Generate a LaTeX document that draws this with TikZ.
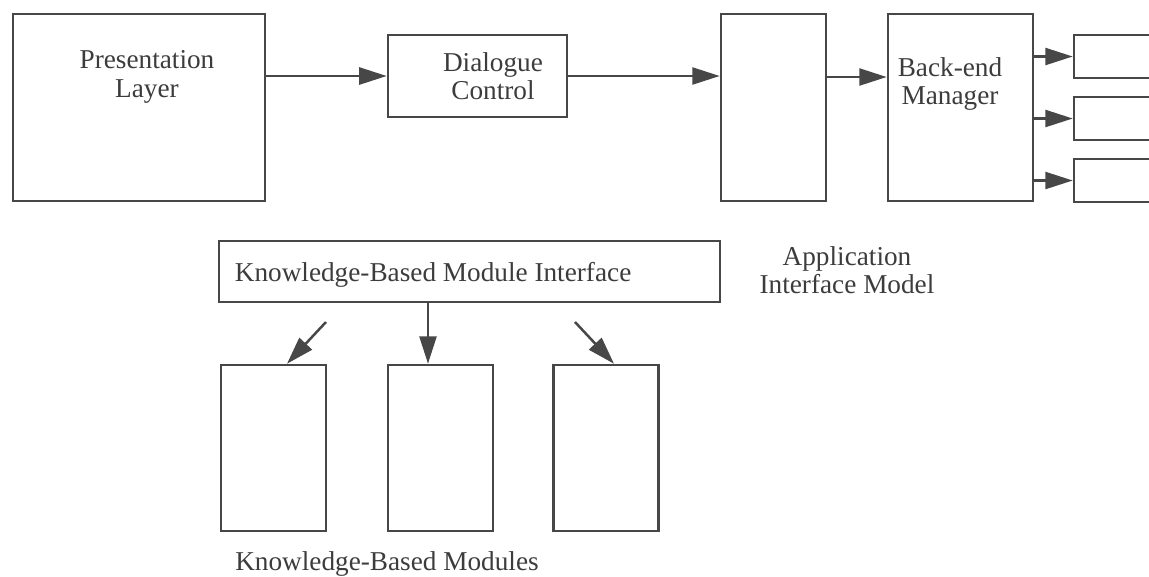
\documentclass[tikz,border=0pt]{standalone}
\usepackage{fontspec}
\setmainfont{Liberation Serif}
\usetikzlibrary{arrows.meta}
\definecolor{ink}{HTML}{474747}
\tikzset{
	box/.style={draw=ink,line width=1pt,rectangle,inner sep=0pt},
	lbl/.style={text=ink!85!black,align=center,font=\fontsize{10.9}{11.3}\selectfont},
	conn/.style={draw=ink,line width=1pt,-{Triangle[length=11pt,width=6.8pt]}}
}
\begin{document}
\begin{tikzpicture}[x=0.4pt,y=-0.4pt]
		\useasboundingbox (0,0) rectangle (1149,576);
		\clip (0,0) rectangle (1149,576);
		% top row
		\node[box,minimum width=100.8pt,minimum height=74.8pt] (pl) at (139,107.5) {};
		\node[box,minimum width=71.6pt,minimum height=32.8pt] (dc) at (477.5,76) {};
		\node[box,minimum width=42pt,minimum height=74.8pt] (aim) at (773.5,107.5) {};
		\node[box,minimum width=58pt,minimum height=74.8pt] (bem) at (960.5,107.5) {};
		\node[box,minimum width=50.4pt,minimum height=17.2pt] (b1) at (1137,56.5) {};
		\node[box,minimum width=50.4pt,minimum height=17.2pt] (b2) at (1137,118.5) {};
		\node[box,minimum width=50.4pt,minimum height=17.2pt] (b3) at (1137,180.5) {};
		\node[lbl] (pltext) at (147,77) {Presentation\\Layer};
		\node[lbl] (dctext) at (493,76) {Dialogue\\Control};
		\node[lbl] (bemtext) at (950,84) {Back-end\\Manager};
		\node[lbl] (aimtext) at (847,270) {Application\\Interface Model};
		\draw[conn] (pl.east |- dc.west) -- (dc.west);
		\draw[conn] (dc.east) -- (dc.east -| aim.west);
		\draw[conn] (aim.east |- 0,77) -- (bem.west |- 0,77);
		\draw[conn] (bem.east |- b1.west) -- (b1.west);
		\draw[conn] (bem.east |- b2.west) -- (b2.west);
		\draw[conn] (bem.east |- b3.west) -- (b3.west);
		% knowledge-based part
		\node[box,minimum width=200.4pt,minimum height=24.4pt] (kbmi) at (469.5,271.5) {};
		\node[lbl,anchor=west] (kbmitext) at (226,275) {Knowledge-Based Module Interface};
		\node[box,minimum width=42pt,minimum height=66.4pt] (km1) at (273.5,448) {};
		\node[box,minimum width=42pt,minimum height=66.4pt] (km2) at (440.5,448) {};
		\node[box,minimum width=42pt,minimum height=66.4pt] (km3) at (606,448) {};
		\node[lbl] (kmtext) at (387,564) {Knowledge-Based Modules};
		\coordinate (s1) at (326,322);
		\coordinate (s3) at (575,322);
		\draw[conn] (s1) -- (km1.north -| 287,0);
		\draw[conn] (kbmi.south -| 428,0) -- (km2.north -| 428,0);
		\draw[conn] (s3) -- (km3.north -| 614,0);
\end{tikzpicture}
\end{document}
